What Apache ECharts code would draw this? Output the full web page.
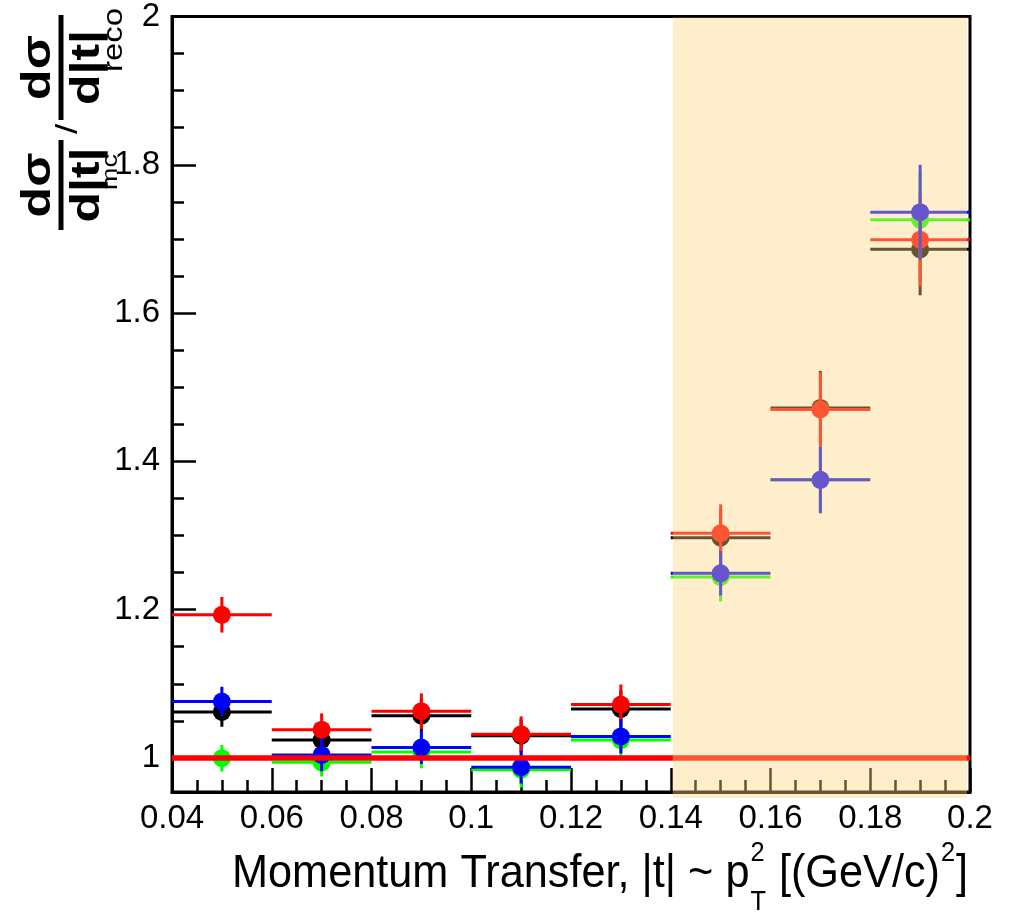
<!DOCTYPE html>
<html>
<head>
<meta charset="utf-8">
<script src="https://cdn.jsdelivr.net/npm/echarts@6/dist/echarts.min.js"></script>
<style>
  html, body { margin: 0; padding: 0; background: #fff; }
  #chart { width: 1010px; height: 922px; }
</style>
</head>
<body>
<div id="chart"></div>
<script>
// Bin centres in |t| (bins are 0.02 wide)
const tCenters = [0.05, 0.07, 0.09, 0.11, 0.13, 0.15, 0.17, 0.19];
const binHalfWidth = 0.01;

// Ratio values and their errors, one pair of arrays per sample
const blackRatio = [1.062, 1.024, 1.057, 1.030, 1.066, 1.297, 1.472, 1.686];
const blackErr   = [0.020, 0.020, 0.022, 0.022, 0.025, 0.038, 0.050, 0.062];
const greenRatio = [0.9996, 0.994, 1.008, 0.984, 1.024, 1.244, 1.375, 1.726];
const greenErr   = [0.018, 0.019, 0.022, 0.024, 0.023, 0.033, 0.045, 0.064];
const redRatio   = [1.193, 1.038, 1.063, 1.032, 1.072, 1.303, 1.470, 1.699];
const redErr     = [0.024, 0.022, 0.024, 0.024, 0.027, 0.039, 0.050, 0.063];
const blueRatio  = [1.076, 1.004, 1.014, 0.9875, 1.029, 1.249, 1.375, 1.736];
const blueErr    = [0.020, 0.022, 0.022, 0.022, 0.023, 0.030, 0.045, 0.064];

// Reference line at ratio = 1 and the shaded high-|t| band
const unityLine = [[0.04, 1], [0.2, 1]];
const shadedBand = [0.14, 0.2];

// Axis ranges and ticks
const xRange = [0.04, 0.2];
const yRange = [0.954, 2];
const yMajorTicks = [1, 1.2, 1.4, 1.6, 1.8, 2];
const yMinorTicks = [1.05, 1.1, 1.15, 1.25, 1.3, 1.35, 1.45, 1.5, 1.55, 1.65, 1.7, 1.75, 1.85, 1.9, 1.95];

const FONT = '"Liberation Sans", Arial, Helvetica, sans-serif';
const chart = echarts.init(document.getElementById('chart'), null, { renderer: 'canvas' });

function crossSeries(name, color, vals, errs, z) {
  return {
    name: name,
    type: 'custom',
    z: z,
    data: tCenters.map((t, i) => [t, vals[i], errs[i]]),
    renderItem: function (params, api) {
      const x = api.value(0), y = api.value(1), e = api.value(2);
      const c = api.coord([x, y]);
      const l = api.coord([x - binHalfWidth, y]);
      const r = api.coord([x + binHalfWidth, y]);
      const top = api.coord([x, y + e]);
      const bot = api.coord([x, y - e]);
      return {
        type: 'group',
        children: [
          { type: 'line', shape: { x1: l[0], y1: l[1], x2: r[0], y2: r[1] }, style: { stroke: color, lineWidth: 3 } },
          { type: 'line', shape: { x1: c[0], y1: top[1], x2: c[0], y2: bot[1] }, style: { stroke: color, lineWidth: 3 } },
          { type: 'circle', shape: { cx: c[0], cy: c[1], r: 9 }, style: { fill: color } }
        ]
      };
    }
  };
}

// Text width helper for the composed axis titles
const mctx = document.createElement('canvas').getContext('2d');
function textWidth(str, size, weight) {
  mctx.font = (weight || 'normal') + ' ' + size + 'px ' + FONT;
  return mctx.measureText(str).width;
}

// x-axis title: Momentum Transfer, |t| ~ p_T^2 [(GeV/c)^2], fitted between left/right pixel edges
function xTitle() {
  const big = 46, small = 27;
  const p1 = 'Momentum Transfer, |t| ~ p';
  const p2 = ' [(GeV/c)';
  const p3 = ']';
  const w1 = textWidth(p1, big), w2 = textWidth(p2, big), w3 = textWidth(p3, big);
  const ws = textWidth('2', small), wt = textWidth('T', small);
  const wStack = Math.max(ws, wt) + 2;
  const total = w1 + wStack + w2 + ws + 2 + w3;
  const left = 232, right = 968;
  const midY = 874;
  let x = 0;
  const ch = [];
  const txt = (s, px, py, size) => ({ type: 'text', x: px, y: py, style: { text: s, font: size + 'px ' + FONT, fill: '#000', verticalAlign: 'middle', align: 'left' } });
  ch.push(txt(p1, x, midY, big)); x += w1;
  ch.push(txt('2', x + 1, midY - 20, small));
  ch.push(txt('T', x + 1, midY + 29, small)); x += wStack;
  ch.push(txt(p2, x, midY, big)); x += w2;
  ch.push(txt('2', x + 1, midY - 20, small)); x += ws + 2;
  ch.push(txt(p3, x, midY, big));
  return { type: 'group', x: left, scaleX: (right - left) / total, children: ch, silent: true };
}

// y-axis title: (dσ/d|t|)_mc / (dσ/d|t|)_reco, rotated to read bottom-to-top
function yTitle() {
  const f = 'bold 41px ' + FONT;
  const stretch = 1.22;
  const t = (s, u, v, font) => ({ type: 'text', x: u, y: v, scaleX: stretch, style: { text: s, font: font, fill: '#000', align: 'center', verticalAlign: 'middle' } });
  const bar = (u0, u1) => ({ type: 'rect', shape: { x: u0, y: 58.5, width: u1 - u0, height: 5 }, style: { fill: '#000' } });
  return {
    type: 'group', x: 0, y: 235, rotation: Math.PI / 2, silent: true,
    children: [
      bar(5, 95), t('dσ', 50, 39, f), t('d|t|', 50, 88, f),
      t('/', 106, 69, '30px ' + FONT),
      bar(115, 220), t('dσ', 167.5, 39, f), t('d|t|', 167.5, 88, f),
      t('mc', 63, 111, '22px ' + FONT),
      t('reco', 195, 115, '27px ' + FONT)
    ]
  };
}

const option = {
  animation: false,
  backgroundColor: '#fff',
  grid: { left: 172, top: 16, right: 40, bottom: 130, show: true, borderColor: '#000', borderWidth: 3, backgroundColor: 'transparent' },
  xAxis: {
    type: 'value', min: xRange[0], max: xRange[1], interval: 0.02,
    axisLine: { show: true, onZero: false, lineStyle: { color: '#000', width: 3 } },
    axisTick: { show: true, inside: true, length: 24, lineStyle: { color: '#000', width: 2.5 } },
    minorTick: { show: true, splitNumber: 4, length: 12, lineStyle: { color: '#000', width: 2.5 } },
    splitLine: { show: false },
    axisLabel: { fontFamily: FONT, fontSize: 33, color: '#000', margin: 10, formatter: v => String(+v.toFixed(3)) }
  },
  yAxis: [{
    type: 'value', min: yRange[0], max: yRange[1],
    axisLine: { show: true, onZero: false, lineStyle: { color: '#000', width: 3 } },
    axisTick: { show: true, inside: true, length: 24, customValues: yMajorTicks, lineStyle: { color: '#000', width: 2.5 } },
    splitLine: { show: false },
    axisLabel: { fontFamily: FONT, fontSize: 33, color: '#000', margin: 12, customValues: yMajorTicks, formatter: v => String(+v.toFixed(2)) }
  }, {
    type: 'value', min: yRange[0], max: yRange[1], position: 'left', offset: 0,
    axisLine: { show: false },
    axisTick: { show: true, inside: true, length: 12, customValues: yMinorTicks, lineStyle: { color: '#000', width: 2.5 } },
    splitLine: { show: false },
    axisLabel: { show: false }
  }],
  series: [
    crossSeries('black', '#000000', blackRatio, blackErr, 3),
    crossSeries('green', '#00ff00', greenRatio, greenErr, 4),
    crossSeries('red', '#ff0000', redRatio, redErr, 5),
    crossSeries('blue', '#0000ff', blueRatio, blueErr, 6),
    {
      name: 'unity', type: 'line', z: 7, data: unityLine, symbol: 'none',
      lineStyle: { color: '#ff0000', width: 5.5 }
    },
    {
      name: 'band', type: 'custom', z: 30, silent: true,
      data: [[shadedBand[0], shadedBand[1]]],
      renderItem: function (params, api) {
        const a = api.coord([api.value(0), yRange[1]]);
        const b = api.coord([api.value(1), yRange[0]]);
        return { type: 'rect', shape: { x: a[0] + 2, y: a[1] + 1, width: b[0] - a[0] - 5, height: b[1] - a[1] + 5 }, style: { fill: 'rgba(255, 212, 127, 0.4)' } };
      }
    }
  ],
  graphic: [xTitle(), yTitle()]
};
chart.setOption(option);
</script>
</body>
</html>
